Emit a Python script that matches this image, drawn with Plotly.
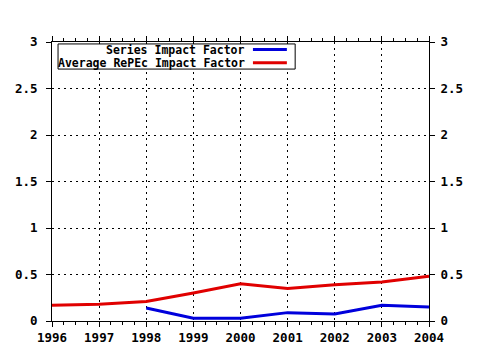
import plotly.graph_objects as go

years = [1996, 1997, 1998, 1999, 2000, 2001, 2002, 2003, 2004]
series_years = [1998, 1999, 2000, 2001, 2002, 2003, 2004]
series_if = [0.14, 0.03, 0.03, 0.09, 0.075, 0.17, 0.15]
avg_if = [0.17, 0.18, 0.21, 0.30, 0.40, 0.35, 0.39, 0.42, 0.48]
y_ticks = [0, 0.5, 1, 1.5, 2, 2.5, 3]
y_tick_labels = ["0", "0.5", "1", "1.5", "2", "2.5", "3"]
legend_names = ["Series Impact Factor", "Average RePEc Impact Factor"]

BLUE = "#0000dc"
RED = "#e00000"
FONT = dict(family="DejaVu Sans Mono", size=12.5, color="black", weight="bold")
LFONT = dict(family="DejaVu Sans Mono", size=11.5, color="black", weight="bold")

fig = go.Figure()
fig.add_trace(go.Scatter(x=series_years, y=series_if, mode="lines",
                         line=dict(color=BLUE, width=3), name=legend_names[0]))
fig.add_trace(go.Scatter(x=years, y=avg_if, mode="lines",
                         line=dict(color=RED, width=3), name=legend_names[1]))
# invisible trace to anchor right axis
fig.add_trace(go.Scatter(x=years, y=avg_if, mode="lines", yaxis="y2",
                         line=dict(color="rgba(0,0,0,0)", width=0),
                         hoverinfo="skip", showlegend=False))

axis_common = dict(showline=True, linecolor="black", linewidth=1,
                   gridcolor="black", griddash="2px,4px", gridwidth=1,
                   tickfont=FONT, zeroline=False, automargin=False)

fig.update_layout(
    width=480, height=350,
    margin=dict(l=52, r=51, t=42, b=29),
    paper_bgcolor="white", plot_bgcolor="white",
    showlegend=False,
    xaxis=dict(range=[1996, 2004], tickmode="array", tickvals=years,
               ticktext=[str(y) for y in years],
               ticks="outside", ticklen=5, tickcolor="black",
               mirror="ticks", showgrid=True,
               minor=dict(dtick=0.25, tick0=1996, ticks="outside", ticklen=3,
                          tickcolor="black", showgrid=False),
               **axis_common),
    yaxis=dict(range=[0, 3], tickmode="array", tickvals=y_ticks,
               ticktext=y_tick_labels, ticks="outside", ticklen=5,
               tickcolor="black", mirror=True, showgrid=True,
               ticklabelstandoff=6, **axis_common),
    yaxis2=dict(range=[0, 3], overlaying="y", side="right",
                tickmode="array", tickvals=y_ticks, ticktext=y_tick_labels,
                ticks="outside", ticklen=5, tickcolor="black",
                showgrid=False, showline=True, linecolor="black",
                tickfont=FONT, zeroline=False, ticklabelstandoff=3,
                automargin=False),
)

# legend box (text then line sample, as in reference)
fig.add_shape(type="rect", xref="paper", yref="paper",
              x0=0.016, x1=0.645, y0=0.903, y1=0.993,
              line=dict(color="black", width=1), fillcolor="white", layer="above")
rows = [(0.973, BLUE), (0.926, RED)]
for name, (yy, col) in zip(legend_names, rows):
    fig.add_annotation(xref="paper", yref="paper", x=0.517, y=yy, text=name,
                       showarrow=False, xanchor="right", yanchor="middle",
                       font=LFONT)
    fig.add_shape(type="line", xref="paper", yref="paper",
                  x0=0.533, x1=0.623, y0=yy, y1=yy,
                  line=dict(color=col, width=3), layer="above")

fig.write_html("out.html")
